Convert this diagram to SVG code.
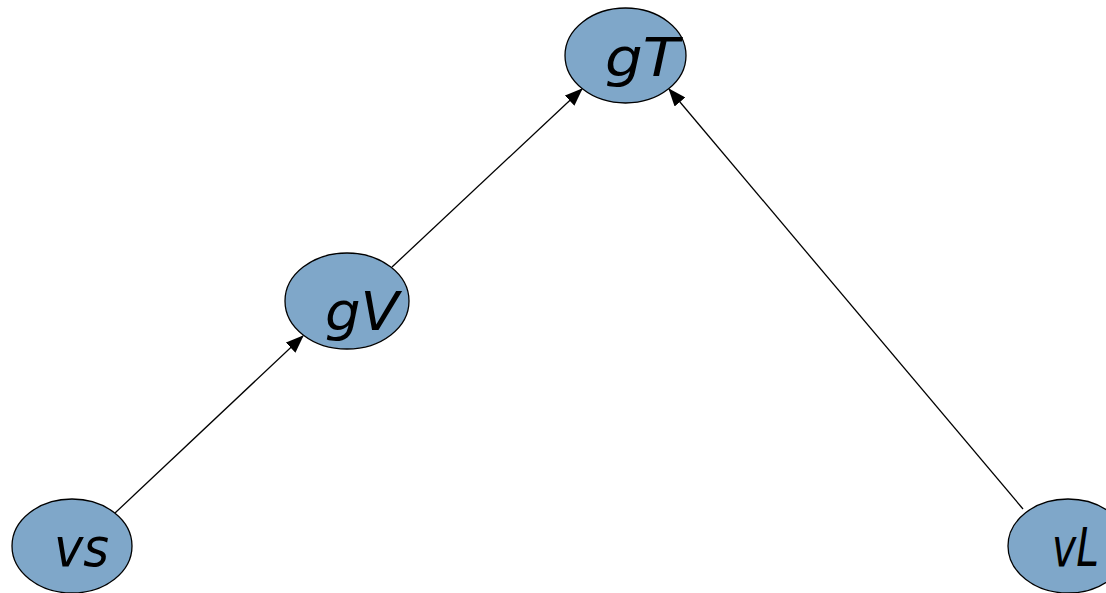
<svg xmlns="http://www.w3.org/2000/svg" width="1106" height="593" viewBox="0 0 1106 593">
<style>
.node{fill:#7fa7c9;stroke:#000;stroke-width:1.3}
.lbl{font-family:"DejaVu Sans",Verdana,sans-serif;font-style:italic;font-size:53px;fill:#000}
.edge{stroke:#000;stroke-width:1.3;fill:none;marker-end:url(#ah)}
</style>
<defs>
<marker id="ah" markerWidth="18" markerHeight="14" refX="17" refY="7" orient="auto" markerUnits="userSpaceOnUse">
<path d="M0,0 L18,7 L0,14 Z" fill="#000"/>
</marker>
</defs>
<rect width="1106" height="593" fill="#fff"/>
<g id="connectors">
<line class="edge" x1="115" y1="513" x2="303" y2="336"/>
<line class="edge" x1="392" y1="267" x2="582" y2="89"/>
<line class="edge" x1="1023" y1="509" x2="669" y2="89"/>
</g>
<g id="gT">
<ellipse class="node" cx="625.5" cy="55.5" rx="60.5" ry="47.5"/>
<text class="lbl" x="605" y="76" textLength="74" lengthAdjust="spacingAndGlyphs">gT</text>
</g>
<g id="gV">
<ellipse class="node" cx="347" cy="301" rx="62" ry="48"/>
<text class="lbl" x="325" y="330" textLength="74" lengthAdjust="spacingAndGlyphs">gV</text>
</g>
<g id="vs">
<ellipse class="node" cx="72" cy="546" rx="60" ry="47"/>
<text class="lbl" x="54" y="566" textLength="55" lengthAdjust="spacingAndGlyphs">vs</text>
</g>
<g id="vL">
<ellipse class="node" cx="1068" cy="546" rx="60" ry="47"/>
<text class="lbl" x="1052" y="566" textLength="47" lengthAdjust="spacingAndGlyphs">vL</text>
</g>
</svg>
